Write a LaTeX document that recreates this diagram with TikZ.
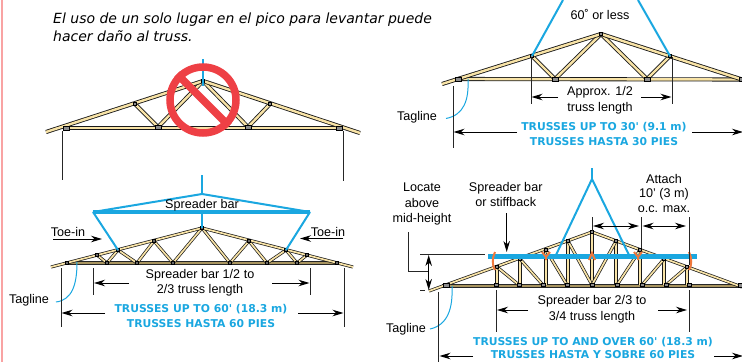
\documentclass[tikz,border=0pt]{standalone}
\usepackage{fontspec}
\setmainfont{Liberation Sans}
\newfontfamily\verdfont{DejaVu Sans}
\usetikzlibrary{arrows.meta,positioning}
\definecolor{liftblue}{HTML}{1AA7E0}
\definecolor{woodc}{HTML}{F8E3A6}
\definecolor{chordc}{HTML}{A8945F}
\definecolor{nored}{HTML}{EE4045}
\definecolor{strapc}{HTML}{F0783C}
\definecolor{pinkc}{HTML}{F9A3A3}
\tikzset{
  >={Stealth[length=11pt,width=6.5pt,inset=3.5pt]},
  lumber/.style={draw=black!90,double=woodc,double distance=2.4pt,line width=.85pt},
  thinlumber/.style={draw=black!90,double=woodc,double distance=1.7pt,line width=.7pt},
  lowchord/.style={draw=black!85,double=chordc,double distance=2.2pt,line width=.6pt},
  plate/.style={draw=black,fill=black!45,line width=.5pt,minimum width=6pt,minimum height=4pt,inner sep=0pt},
  smallplate/.style={plate,minimum width=3.4pt,minimum height=3.4pt},
  sling/.style={draw=liftblue,line width=2pt},
  tagline/.style={draw=liftblue,line width=1pt},
  strap/.style={draw=strapc,line width=2pt},
  dimline/.style={draw=black!85,line width=.8pt},
  dimarrow/.style={->,draw=black,line width=1pt},
  lbl/.style={font=\fontsize{12.6}{15.5}\selectfont,align=center,inner sep=0pt},
  trusstext/.style={font=\verdfont\bfseries\fontsize{10.8}{13}\selectfont,text=liftblue,inner sep=0pt},
  notetext/.style={font=\verdfont\itshape\fontsize{14}{18}\selectfont,inner sep=0pt,anchor=base west},
}
\begin{document}
\begin{tikzpicture}[x=1pt,y=-1pt]
   \useasboundingbox (0,0) rectangle (742,362);
   \draw[pinkc,line width=2pt] (1.5,0) -- (1.5,362);
   % note
   \node[notetext] (note1) at (53,23) {El uso de un solo lugar en el pico para levantar puede};
   \node[notetext] (note2) at (53,41.5) {hacer daño al truss.};

   % single pick truss
   \coordinate (a0) at (46,132);  \coordinate (a1) at (66,128);
   \coordinate (a2) at (135,104); \coordinate (a3) at (203,81);
   \coordinate (a4) at (270,104); \coordinate (a5) at (339,128);
   \coordinate (a6) at (360,133); \coordinate (a7) at (158,127);
   \coordinate (a8) at (248,127);
   \draw[lumber] (a1) -- (a5);
   \foreach \p/\q in {a2/a7,a7/a3,a3/a8,a8/a4,a0/a3,a3/a6} \draw[lumber] (\p) -- (\q);
   \foreach \p in {a1,a5,a7,a8} \node[plate] (p\p) at (\p) {};
   \foreach \p in {a2,a3,a4} \node[smallplate] (p\p) at (\p) {};
   \draw[dimline] (62.5,131) -- (62.5,180);
   \draw[dimline] (343,131) -- (343,181);
   \draw[sling] (203,59) -- (203,86);
   \node[circle,draw=nored,line width=7.5pt,minimum size=66pt,inner sep=0pt] (nosign) at (203,100) {};
   \draw[nored,line width=7.5pt] (nosign.135) -- (nosign.-45);

   % spreader bar, 60 feet
   \coordinate (b0) at (51,267);   \coordinate (b1) at (67,263);
   \coordinate (b2) at (97,255);   \coordinate (b3) at (118,250);
   \coordinate (b4) at (154,241);  \coordinate (b5) at (202,228);
   \coordinate (b6) at (249,241);  \coordinate (b7) at (286,250);
   \coordinate (b8) at (307,255);  \coordinate (b9) at (337,263);
   \coordinate (b10) at (353,267);
   \foreach \n/\x in {11/107,12/137,13/173,14/230,15/267,16/297} \coordinate (b\n) at (\x,263);
   \draw[lowchord] (b1) -- (b9);
   \foreach \p/\q in {b2/b11,b11/b3,b3/b12,b12/b4,b4/b13,b13/b5,b5/b14,b14/b6,b6/b15,b15/b7,b7/b16,b16/b8,b0/b5,b5/b10}
     \draw[thinlumber] (\p) -- (\q);
   \foreach \p in {b1,b2,b3,b4,b5,b6,b7,b8,b9,b11,b12,b13,b14,b15,b16} \node[smallplate,fill=black!60] (p\p) at (\p) {};
   \coordinate (bl) at (93,212); \coordinate (bm) at (202,212);
   \coordinate (br) at (310,212); \coordinate (bt) at (202,194);
   \draw[sling] (202,175) -- (bt);
   \draw[sling] (bl) -- (bt) -- (br);
   \draw[draw=liftblue,line width=4pt] (bl) -- (br);
   \draw[sling] (bm) -- (b5);
   \draw[sling] (bl) -- (b3);
   \draw[sling] (br) -- (b7);
   \node[lbl] (b20) at (202,205.5) {Spreader bar};
   \node[lbl] (b21) at (68,232) {Toe-in};
   \node[lbl] (b22) at (328,232) {Toe-in};
   \coordinate (b23) at (53,239);
   \coordinate (b24) at (343,238.5);
   \draw[dimarrow] (b23) -- ++(49,0);
   \draw[dimarrow] (b24) -- ++(-43,0);
   \node[lbl] (b25) at (200,282.5) {Spreader bar 1/2 to\\2/3 truss length};
   \draw[dimline] (93,268) -- (93,295);
   \draw[dimline] (310,268) -- (310,295);
   \draw[dimarrow] (129,283) -- (94,283);
   \draw[dimarrow] (272,283) -- (309.5,283);
   \node[lbl] (b26) at (29,300) {Tagline};
   \draw[tagline] (77,262) .. controls (77,285) and (72,300) .. (56,302);
   \node[trusstext] (b27) at (201,309) {TRUSSES UP TO 60' (18.3 m)};
   \node[trusstext] (b28) [below=5pt of b27] {TRUSSES HASTA 60 PIES};
   \draw[dimline] (61,268) -- (61,327);
   \draw[dimline] (344,268) -- (344,327);
   \draw[dimarrow] (105,313) -- (61.5,313);
   \draw[dimarrow] (298,313) -- (343.5,313);

   % two slings, 30 feet
   \coordinate (c0) at (442,84);  \coordinate (c1) at (458,79);
   \coordinate (c2) at (532,56);  \coordinate (c3) at (601,34);
   \coordinate (c4) at (670,56);  \coordinate (c5) at (742,79.5);
   \coordinate (c6) at (555,79);  \coordinate (c7) at (647,79);
   \draw[lumber] (c1) -- (c5);
   \foreach \p/\q in {c2/c6,c6/c3,c3/c7,c7/c4,c0/c3,c3/c5} \draw[lumber] (\p) -- (\q);
   \foreach \p in {c1,c6,c7,c5} \node[plate] (p\p) at (\p) {};
   \foreach \p in {c2,c3,c4} \node[smallplate] (p\p) at (\p) {};
   \draw[sling] (563,0) -- (c2);
   \draw[sling] (638,0) -- (c4);
   \node[lbl] (c10) at (600,14) {60˚ or less};
   \draw[dimline] (531,57) -- (531,104);
   \draw[dimline] (672,57) -- (672,104);
   \draw[dimarrow] (558,97) -- (531.5,97);
   \draw[dimarrow] (641,97) -- (671.5,97);
   \node[lbl] (c11) at (600,100) {Approx. 1/2\\truss length};
   \node[lbl] (c12) at (417,117.5) {Tagline};
   \draw[tagline] (468,79) .. controls (469,100) and (464,115) .. (446,118.5);
   \draw[dimline] (453,86) -- (453,148);
   \draw[dimarrow] (517,132) -- (453.5,132);
   \draw[dimarrow] (692,132) -- (743,132);
   \node[trusstext] (c13) at (604,127) {TRUSSES UP TO 30' (9.1 m)};
   \node[trusstext] (c14) [below=5pt of c13] {TRUSSES HASTA 30 PIES};

   % stiffback, over 60 feet
   \coordinate (d0) at (429,291);  \coordinate (d1) at (742,287);
   \coordinate (t1) at (497,267);  \coordinate (t2) at (520,259);
   \coordinate (t3) at (546,250);  \coordinate (t4) at (568,241);
   \coordinate (t5) at (592,232);  \coordinate (t6) at (616,241);
   \coordinate (t7) at (640,250);  \coordinate (t8) at (664,259);
   \coordinate (t9) at (687,267);
   \foreach \n/\x in {1/496,2/519,3/543,4/567,5/592,6/617,7/642,8/666,9/689} \coordinate (u\n) at (\x,285);
   \draw[lowchord] (442,286) -- (742,286);
   \foreach \n in {1,...,9} \draw[thinlumber] (t\n) -- (t\n|-u\n);
   \foreach \p/\q in {t1/u2,t2/u3,t3/u4,t4/u5,t6/u5,t7/u6,t8/u7,t9/u8,d0/t5,t5/d1}
     \draw[thinlumber] (\p) -- (\q);
   \node[plate] (d2) at (446,285) {};
   \node[plate] (d3) at (741,285) {};
   \foreach \n in {1,...,9} {
     \node[smallplate] (pt\n) at (t\n) {};
     \node[smallplate,minimum width=4pt] (pu\n) at (u\n) {};
   }
   \coordinate (dt) at (592,179);
   \draw[sling] (592,168) -- (dt);
   \draw[sling] (556,255) -- (dt) -- (629,255);
   \draw[draw=liftblue,line width=5pt] (488,256) -- (697,256);
   \draw[strap] (495,252) .. controls (492,258) and (492,265) .. (495,270);
   \draw[strap] (689,252) .. controls (692,258) and (692,265) .. (689,270);
   \draw[strap] (542,252) -- (546,257) -- (550,252) (546,257) -- (546,260);
   \draw[strap] (589,260) -- (592,253) -- (595,260);
   \draw[strap] (634,252) -- (638,257) -- (642,252) (638,257) -- (638,260);
   \node[lbl] (d10) at (422,204) {Locate\\above\\mid-height};
   \draw[dimline] (408,232) -- (408,271) -- (428,271);
   \draw[dimline] (420,254) -- (485,254);
   \draw[dimline] (420,290) -- (425,290);
   \draw[<->,draw=black,line width=1pt] (428.7,255) -- (428.7,290);
   \node[lbl] (d11) at (505.7,194.5) {Spreader bar\\or stiffback};
   \draw[dimarrow] (506.7,213) -- (506.7,252);
   \node[lbl] (d12) at (664,193) {Attach\\[-1pt]10' (3 m)\\[-1pt]o.c. max.};
   \draw[dimline] (592,217) -- (592,231);
   \draw[dimline] (641,217) -- (641,248);
   \draw[dimline] (689,217) -- (689,265);
   \draw[<->,draw=black,line width=1pt] (593,226) -- (639,226);
   \draw[<->,draw=black,line width=1pt] (642.5,226) -- (686,226);
   \node[lbl] (d13) at (592,309) {Spreader bar 2/3 to\\3/4 truss length};
   \draw[dimline] (496,290) -- (496,332);
   \draw[dimline] (689,290) -- (689,332);
   \draw[dimarrow] (528,310) -- (497,310);
   \draw[dimarrow] (658,310) -- (687,310);
   \node[lbl] (d14) at (406,329) {Tagline};
   \draw[tagline] (452,286) .. controls (453,308) and (448,325) .. (430,329);
   \draw[dimline] (438,292) -- (438,362);
   \draw[dimarrow] (473,356) -- (439.5,356);
   \draw[dimarrow] (714,356) -- (743,356);
   \node[trusstext] (d15) at (593,342) {TRUSSES UP TO AND OVER 60' (18.3 m)};
   \node[trusstext] (d16) [below=3.5pt of d15] {TRUSSES HASTA Y SOBRE 60 PIES};
\end{tikzpicture}
\end{document}
